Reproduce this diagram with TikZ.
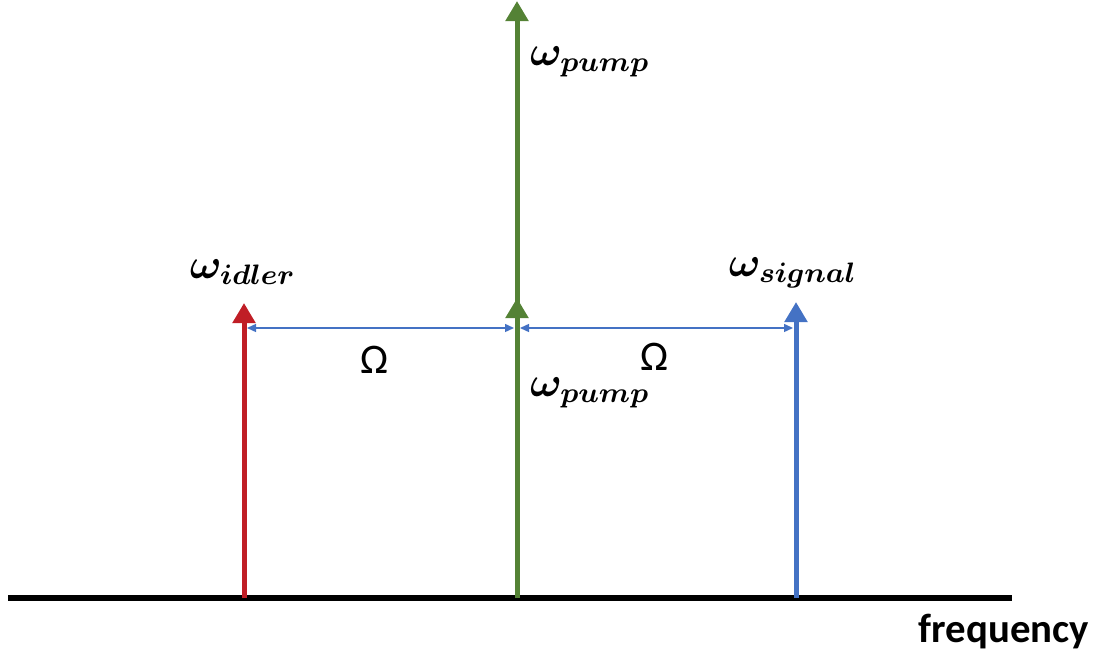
\documentclass[tikz,border=0pt]{standalone}
\usepackage{fontspec}
\usepackage{bm}
\newfontfamily\labelfont{Carlito}
\usetikzlibrary{arrows.meta}
\definecolor{idlerred}{RGB}{192,30,38}
\definecolor{pumpgreen}{RGB}{84,130,53}
\definecolor{signalblue}{RGB}{68,114,196}

\begin{document}
\begin{tikzpicture}[
  x=0.01cm, y=-0.01cm,
  line/.style={
    line width=0.5mm,
    -{Triangle[length=2mm,width=2.2mm]}
  },
  idler/.style={line,draw=idlerred,fill=idlerred},
  pump/.style={line,draw=pumpgreen,fill=pumpgreen},
  signal/.style={line,draw=signalblue,fill=signalblue},
  spacing/.style={
    draw=signalblue,
    line width=0.4pt,
    {Triangle[length=0.9mm,width=0.8mm]}-{Triangle[length=0.9mm,width=0.8mm]}
  },
  omega/.style={font=\large},
  gap/.style={font=\labelfont\large}
]
\useasboundingbox (0,0) rectangle (1106,661);

% Frequency axis
\coordinate (axis-start) at (8,598);
\coordinate (axis-end) at (1012,598);
\draw[line width=0.5mm] (axis-start) -- (axis-end);
\node[font=\labelfont\bfseries\fontsize{11.6}{14}\selectfont] (frequency) at (1004,632) {frequency};

% Spectral lines
\coordinate (idler-base) at (244,598);
\coordinate (idler-tip) at (244,303);
\coordinate (pump-base) at (517,598);
\coordinate (pump-mid) at (517,298);
\coordinate (pump-start) at (517,304);
\coordinate (pump-tip) at (517,1);
\coordinate (signal-base) at (796,598);
\coordinate (signal-tip) at (796,302);

\draw[idler] (idler-base) -- (idler-tip);
\draw[pump] (pump-start) -- (pump-tip);
\draw[pump] (pump-base) -- (pump-mid);
\draw[signal] (signal-base) -- (signal-tip);

% Labels
\node[omega] (idler-label) at (243,272) {$\bm{\omega_{idler}}$};
\node[omega] (pump-label-top) at (590,62) {$\bm{\omega_{pump}}$};
\node[omega] (pump-label-low) at (590,393) {$\bm{\omega_{pump}}$};
\node[omega] (signal-label) at (793,273) {$\bm{\omega_{signal}}$};

% Detuning between the lines
\coordinate (gap-left-a) at (247,328);
\coordinate (gap-left-b) at (514,328);
\coordinate (gap-right-a) at (520,328);
\coordinate (gap-right-b) at (793,328);
\draw[spacing] (gap-left-a) -- (gap-left-b);
\draw[spacing] (gap-right-a) -- (gap-right-b);
\node[gap] (omega-left) at (375,360) {Ω};
\node[gap] (omega-right) at (655,357) {Ω};

\end{tikzpicture}
\end{document}
